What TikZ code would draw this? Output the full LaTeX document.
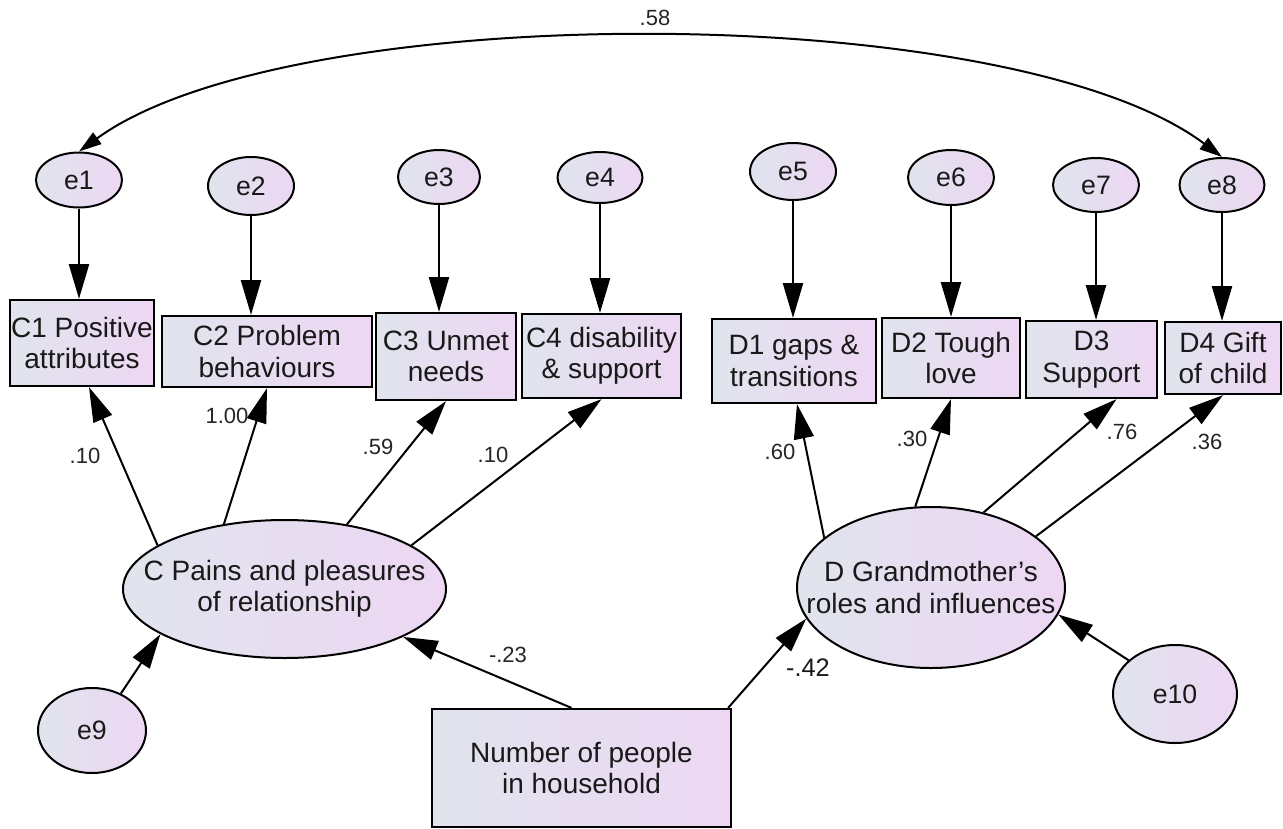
\documentclass[tikz,border=0pt]{standalone}
\usepackage{fontspec}
\setmainfont{Liberation Sans}
\usetikzlibrary{shapes.geometric,arrows.meta,calc}
\definecolor{fillL}{RGB}{224,228,237}
\definecolor{fillR}{RGB}{237,215,243}
\newcommand\bxfont{\fontsize{21}{23.5}\selectfont}
\newcommand\elfont{\fontsize{20}{23}\selectfont}
\newcommand\cffont{\fontsize{16.5}{18}\selectfont}
\newcommand\bigcffont{\fontsize{19}{21}\selectfont}

\begin{document}
\begin{tikzpicture}[x=0.75pt,y=-0.75pt,
  obs/.style={rectangle,draw=black,line width=1.7pt,left color=fillL,right color=fillR,
              inner sep=0pt,align=center,font=\bxfont,text=black!90},
  lat/.style={ellipse,draw=black,line width=1.5pt,left color=fillL,right color=fillR,
              inner sep=0pt,font=\elfont,text=black!90},
  lattext/.style={font=\bxfont,align=center,text=black!90},
  arr/.style={line width=1.5pt,-{Triangle[length=26pt,width=15pt]}},
  covarr/.style={line width=1.5pt,{Triangle[length=17pt,width=10.5pt]}-{Triangle[length=17pt,width=10.5pt]}},
  coef/.style={font=\cffont,text=black!85,inner sep=1pt},
  bigcoef/.style={font=\bigcffont,text=black!90,inner sep=1pt}]

% canvas
\fill[white,use as bounding box] (0,0) rectangle (1283,829);

% observed indicators
\node[obs,minimum width=108pt,minimum height=64.5pt]  (C1) at (82,343)    {C1 Positive\\attributes};
\node[obs,minimum width=157.5pt,minimum height=53.25pt] (C2) at (267,351.5) {C2 Problem\\behaviours};
\node[obs,minimum width=105pt,minimum height=65.25pt] (C3) at (446,356.5)  {C3 Unmet\\needs};
\node[obs,minimum width=119.25pt,minimum height=63pt] (C4) at (601.5,356)  {C4 disability\\\& support};
\node[obs,minimum width=123pt,minimum height=63pt]    (D1) at (794,361)    {D1 gaps \&\\transitions};
\node[obs,minimum width=103.5pt,minimum height=60pt]  (D2) at (951,358)    {D2 Tough\\love};
\node[obs,minimum width=98.25pt,minimum height=57.75pt] (D3) at (1091.5,359.5) {D3\\Support};
\node[obs,minimum width=87pt,minimum height=54pt]     (D4) at (1223,358)   {D4 Gift\\of child};
\node[obs,minimum width=224.25pt,minimum height=88.5pt] (N) at (581.5,768) {Number of people\\in household};

% error terms
\node[lat,minimum width=64.5pt,minimum height=41.25pt] (e1) at (79,180)    {e1};
\node[lat,minimum width=64.5pt,minimum height=43.5pt]  (e2) at (251,186)   {e2};
\node[lat,minimum width=61.5pt,minimum height=40.5pt]  (e3) at (439,177)   {e3};
\node[lat,minimum width=63.75pt,minimum height=38.25pt] (e4) at (600,177.5) {e4};
\node[lat,minimum width=64.5pt,minimum height=42.75pt] (e5) at (793,171.5) {e5};
\node[lat,minimum width=64.5pt,minimum height=41.25pt] (e6) at (951,177.5) {e6};
\node[lat,minimum width=64.5pt,minimum height=40.5pt]  (e7) at (1096,185)  {e7};
\node[lat,minimum width=63.75pt,minimum height=40.5pt] (e8) at (1222,185)  {e8};
\node[lat,minimum width=81pt,minimum height=63.75pt]   (e9) at (92,730.5)  {e9};
\node[lat,minimum width=93pt,minimum height=73.5pt]    (e10) at (1175,694) {e10};

% latent factors
\node[lat,minimum width=242.25pt,minimum height=103.5pt,
      label={[lattext]center:C Pains and pleasures\\of relationship}] (C) at (284.5,589) {};
\node[lat,minimum width=201pt,minimum height=120.75pt,
      label={[lattext]center:D Grandmother’s\\roles and influences}] (D) at (931,587.5) {};

% error paths
\foreach \e/\o in {e1/C1,e2/C2,e3/C3,e4/C4,e5/D1,e6/D2,e7/D3,e8/D4}
  \draw[arr] (\e) -- (\e |- \o.north);

% loadings of C
\draw[arr] (C.161) -- ($(C1.south)+(7,0)$);
\draw[arr] (C.133) -- (C2.south);
\draw[arr] (C.46)  -- (C3.south);
\draw[arr] (C.19)  -- (C4.south);

% loadings of D
\draw[arr] (D.155) -- ($(D1.south)+(3,0)$);
\draw[arr] (D.101) -- (D2.south);
\draw[arr] (D.55)  -- ($(D3.south)+(25,0)$);
\draw[arr] (D.26)  -- (D4.south);

% structural paths and disturbances
\draw[arr] ($(N.north)+(-10,0)$) -- (C.338);
\draw[arr] ($(N.north east)+(-4,0)$) -- (D.194);
\draw[arr] (e9.52) -- (C.200);
\draw[arr] (e10.144) -- (D.348);

% covariance between e1 and e8
\draw[covarr] (e1.north) .. controls (290,-2) and (1010,-2) .. (e8.north);

% coefficients
\node[coef] (k58) at (655,18)  {.58};
\node[coef] (k1)  at (85,456)  {.10};
\node[coef] (k2)  at (227,416) {1.00};
\node[coef] (k3)  at (378,447) {.59};
\node[coef] (k4)  at (493,455) {.10};
\node[coef] (k5)  at (780,452) {.60};
\node[coef] (k6)  at (912,439) {.30};
\node[coef] (k7)  at (1122,432) {.76};
\node[coef] (k8)  at (1207,442) {.36};
\node[coef] (kC)  at (508,655) {-.23};
\node[bigcoef] (kD) at (808,668) {-.42};
\end{tikzpicture}
\end{document}
